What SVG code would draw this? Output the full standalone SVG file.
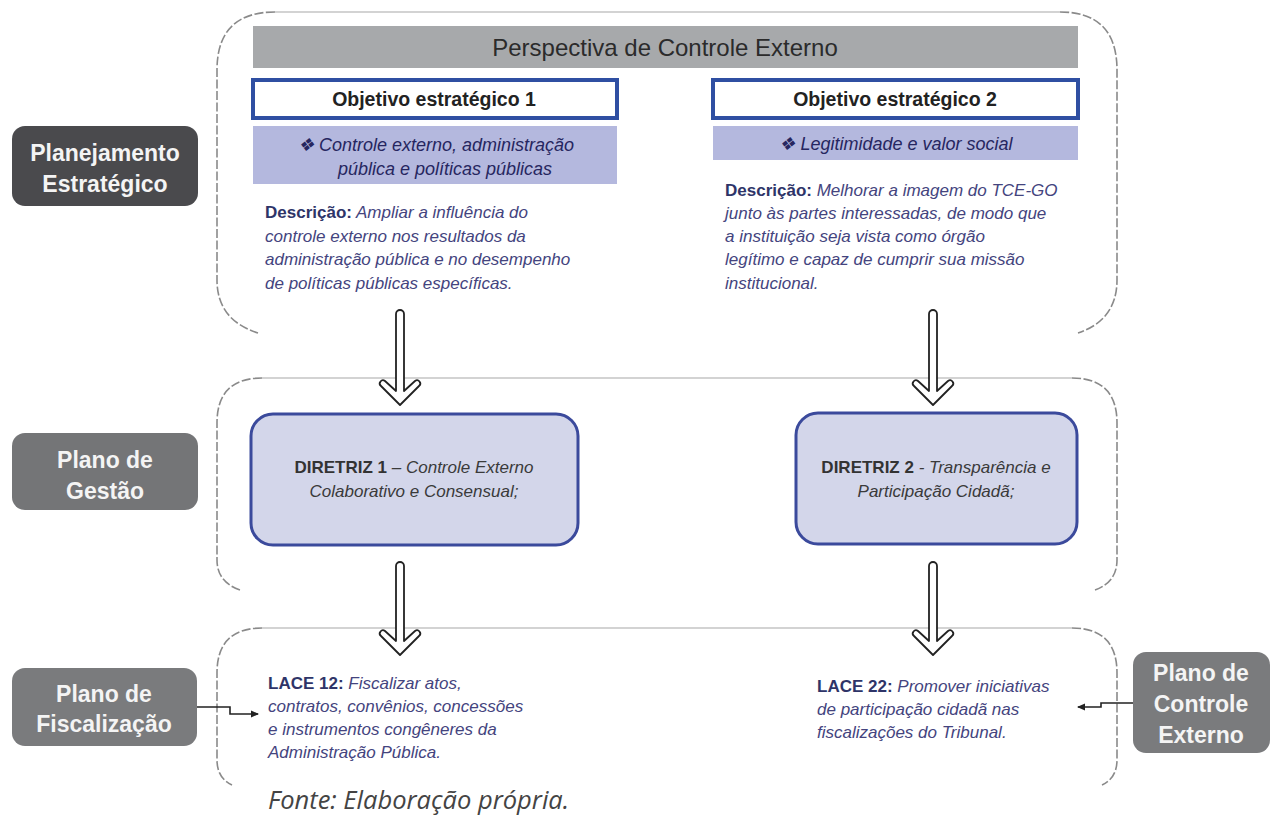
<svg xmlns="http://www.w3.org/2000/svg" width="1273" height="816" viewBox="0 0 1273 816">
<defs>
<style>
.t{font-family:"Liberation Sans",Arial,sans-serif}
.lab{font-family:"Liberation Sans",Arial,sans-serif;font-size:23px;font-weight:bold;fill:#f4f4f4;text-anchor:middle}
.body{font-family:"Liberation Sans",Arial,sans-serif;font-size:17px;font-style:italic;fill:#44447e}
.th{font-family:"Liberation Sans",Arial,sans-serif;font-size:18px;font-style:italic;fill:#262660;text-anchor:middle}
.b{font-weight:bold;font-style:normal;fill:#2e3468}
.dir{font-family:"Liberation Sans",Arial,sans-serif;font-size:17px;font-style:italic;fill:#3a3a3a;text-anchor:middle}
.db{font-weight:bold;font-style:normal;fill:#333}
.side{fill:none;stroke:#8a8a8a;stroke-width:1.6;stroke-dasharray:9 2.5}
.topline{fill:none;stroke:#c4c4c4;stroke-width:1.6}
.obj{fill:#ffffff;stroke:#2f4fa2;stroke-width:4}
.lav{fill:#b4b8de}
.dbox{fill:#d3d6ea;stroke:#3b4a9c;stroke-width:3}
.harrow{fill:#ffffff;stroke:#222;stroke-width:1.8;stroke-linejoin:round}
.conn{fill:none;stroke:#222;stroke-width:1.6}
</style>
<marker id="ah" markerWidth="8" markerHeight="8" refX="7" refY="4" orient="auto" markerUnits="userSpaceOnUse">
<path d="M0,0.5 L8,4 L0,7.5 Z" fill="#222"/>
</marker>
</defs>
<rect width="1273" height="816" fill="#ffffff"/>

<g id="containers">
<path class="topline" d="M275,12 L1060,12"/>
<path class="side" d="M275,12 Q217,12 217,70 L217,280 Q217,320 258,333"/>
<path class="side" d="M1060,12 Q1117,12 1117,70 L1117,280 Q1117,320 1078,333"/>
<path class="topline" d="M262,378 L1072,378"/>
<path class="side" d="M262,378 Q217,378 217,423 L217,560 Q217,582 240,590"/>
<path class="side" d="M1072,378 Q1117,378 1117,423 L1117,560 Q1117,582 1095,590"/>
<path class="topline" d="M262,628 L1072,628"/>
<path class="side" d="M262,628 Q217,628 217,673 L217,760 Q217,778 232,785"/>
<path class="side" d="M1072,628 Q1117,628 1117,673 L1117,760 Q1117,778 1102,785"/>
</g>

<g id="header">
<rect x="253" y="26" width="825" height="42" fill="#a7a9ab"/>
<text class="t" x="665" y="56" font-size="24" fill="#2b2b2b" text-anchor="middle">Perspectiva de Controle Externo</text>
</g>

<g id="obj1">
<rect class="obj" x="253" y="80" width="364" height="38"/>
<text class="t" x="434" y="106" font-size="19.5" font-weight="bold" fill="#222" text-anchor="middle">Objetivo estratégico 1</text>
</g>
<g id="obj1-theme">
<rect class="lav" x="253" y="126" width="364" height="58"/>
<text class="th" x="436" y="151">❖ Controle externo, administração</text>
<text class="th" x="445" y="175">pública e políticas públicas</text>
</g>
<g id="obj1-desc">
<text class="body" x="265" y="218"><tspan class="b">Descrição:</tspan> Ampliar a influência do</text>
<text class="body" x="265" y="242">controle externo nos resultados da</text>
<text class="body" x="265" y="265">administração pública e no desempenho</text>
<text class="body" x="265" y="289">de políticas públicas específicas.</text>
</g>

<g id="obj2">
<rect class="obj" x="713" y="80" width="365" height="38"/>
<text class="t" x="895" y="106" font-size="19.5" font-weight="bold" fill="#222" text-anchor="middle">Objetivo estratégico 2</text>
</g>
<g id="obj2-theme">
<rect class="lav" x="713" y="126" width="365" height="34"/>
<text class="th" x="896" y="150">❖ Legitimidade e valor social</text>
</g>
<g id="obj2-desc">
<text class="body" x="725" y="196"><tspan class="b">Descrição:</tspan> Melhorar a imagem do TCE-GO</text>
<text class="body" x="725" y="219">junto às partes interessadas, de modo que</text>
<text class="body" x="725" y="242">a instituição seja vista como órgão</text>
<text class="body" x="725" y="265">legítimo e capaz de cumprir sua missão</text>
<text class="body" x="725" y="289">institucional.</text>
</g>

<g id="lbl-planejamento">
<rect x="12" y="126" width="186" height="80" rx="13" fill="#4a4a4d"/>
<text class="lab" x="105" y="161">Planejamento</text>
<text class="lab" x="105" y="192">Estratégico</text>
</g>
<g id="lbl-gestao">
<rect x="12" y="433" width="186" height="77" rx="13" fill="#747577"/>
<text class="lab" x="105" y="468">Plano de</text>
<text class="lab" x="105" y="499">Gestão</text>
</g>
<g id="lbl-fiscalizacao">
<rect x="12" y="668" width="185" height="78" rx="13" fill="#7a7b7d"/>
<text class="lab" x="104" y="702">Plano de</text>
<text class="lab" x="104" y="732">Fiscalização</text>
</g>
<g id="lbl-controle">
<rect x="1133" y="652" width="137" height="101" rx="13" fill="#7a7b7d"/>
<text class="lab" x="1201" y="681">Plano de</text>
<text class="lab" x="1201" y="712">Controle</text>
<text class="lab" x="1201" y="743">Externo</text>
</g>

<g id="diretriz1">
<rect class="dbox" x="251" y="414" width="327" height="131" rx="22"/>
<text class="dir" x="414" y="473"><tspan class="db">DIRETRIZ 1</tspan> – Controle Externo</text>
<text class="dir" x="414" y="497">Colaborativo e Consensual;</text>
</g>
<g id="diretriz2">
<rect class="dbox" x="796" y="413" width="281" height="131" rx="22"/>
<text class="dir" x="936" y="473"><tspan class="db">DIRETRIZ 2</tspan> - Transparência e</text>
<text class="dir" x="936" y="497">Participação Cidadã;</text>
</g>

<g id="lace12">
<text class="body" x="268" y="689"><tspan class="b">LACE 12:</tspan> Fiscalizar atos,</text>
<text class="body" x="268" y="712">contratos, convênios, concessões</text>
<text class="body" x="268" y="735">e instrumentos congêneres da</text>
<text class="body" x="268" y="758">Administração Pública.</text>
</g>
<g id="lace22">
<text class="body" x="817" y="692"><tspan class="b">LACE 22:</tspan> Promover iniciativas</text>
<text class="body" x="817" y="715">de participação cidadã nas</text>
<text class="body" x="817" y="738">fiscalizações do Tribunal.</text>
</g>

<g id="connectors">
<path class="harrow" d="M396,314 A4,4 0 0 1 404,314 L404,391 L415,381 A3,3 0 0 1 419,386 L400,405 L381,386 A3,3 0 0 1 385,381 L396,391 Z"/>
<path class="harrow" d="M929,314 A4,4 0 0 1 937,314 L937,391 L948,381 A3,3 0 0 1 952,386 L933,405 L914,386 A3,3 0 0 1 918,381 L929,391 Z"/>
<path class="harrow" d="M396,566 A4,4 0 0 1 404,566 L404,641 L415,631 A3,3 0 0 1 419,636 L400,655 L381,636 A3,3 0 0 1 385,631 L396,641 Z"/>
<path class="harrow" d="M929,566 A4,4 0 0 1 937,566 L937,641 L948,631 A3,3 0 0 1 952,636 L933,655 L914,636 A3,3 0 0 1 918,631 L929,641 Z"/>
<path class="conn" d="M197,707 L230,707 L230,714 L258,714" marker-end="url(#ah)"/>
<path class="conn" d="M1133,703 L1101,703 L1101,707 L1078,707" marker-end="url(#ah)"/>
</g>

<text id="fonte" x="268" y="809" font-family="'Open Sans','Liberation Sans',sans-serif" font-size="25.5" font-style="italic" fill="#444">Fonte: Elaboração própria.</text>
</svg>
